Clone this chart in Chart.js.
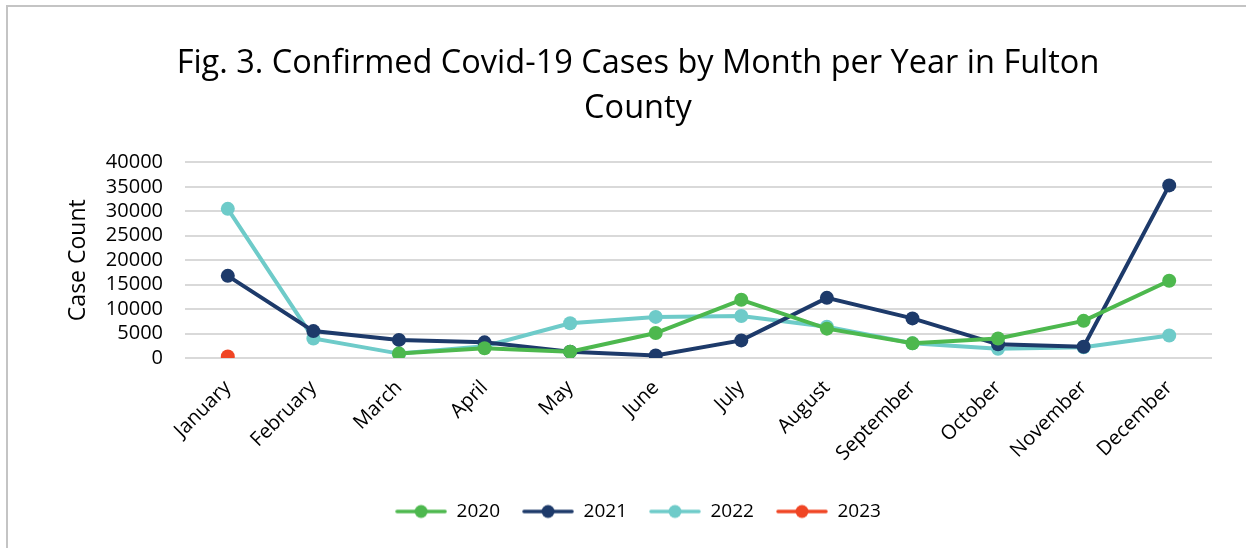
<!DOCTYPE html>
<html>
<head>
<meta charset="utf-8">
<script src="https://cdn.jsdelivr.net/npm/chart.js@4"></script>
<style>
  html, body { margin: 0; padding: 0; background: #fff; overflow: hidden; }
  #wrap {
    position: absolute; left: 6px; top: 5px;
    width: 1240px; height: 543px;
    border-left: 2px solid #c4c4c4; border-top: 2px solid #c4c4c4;
  }
</style>
</head>
<body>
<div id="wrap"><canvas id="covidChart"></canvas></div>
<script>
const MESES = ['January', 'February', 'March', 'April', 'May', 'June', 'July',
               'August', 'September', 'October', 'November', 'December'];

// Casos confirmados por mes
const CASOS_2020 = [null, null, 900, 2000, 1300, 5100, 11900, 6000, 3000, 4000, 7600, 15800];
const CASOS_2021 = [16800, 5500, 3700, 3200, 1300, 500, 3600, 12300, 8100, 2800, 2300, 35300];
const CASOS_2022 = [30500, 4000, 900, 2400, 7100, 8400, 8600, 6400, 3000, 1900, 2200, 4600];
const CASOS_2023 = [300, null, null, null, null, null, null, null, null, null, null, null];

const Y_TICKS = [0, 5000, 10000, 15000, 20000, 25000, 30000, 35000, 40000];

const COLORES = {
    '2020': '#4db84e',
    '2021': '#1d3a6a',
    '2022': '#6ecbc9',
    '2023': '#f04524'
};

// Icono de leyenda: línea con punto en el centro
function iconoLeyenda(color) {
    const c = document.createElement('canvas');
    c.width = 52; c.height = 16;
    const g = c.getContext('2d');
    g.strokeStyle = color;
    g.lineWidth = 3.5;
    g.lineCap = 'round';
    g.beginPath(); g.moveTo(2, 8); g.lineTo(50, 8); g.stroke();
    g.fillStyle = color;
    g.beginPath(); g.arc(26, 8, 6.5, 0, Math.PI * 2); g.fill();
    return c;
}

function serie(label, data) {
    return {
        label: label,
        data: data,
        borderColor: COLORES[label],
        backgroundColor: COLORES[label],
        borderWidth: 4,
        pointRadius: 7,
        pointHoverRadius: 7,
        pointStyle: 'circle',
        pointBorderWidth: 0,
        spanGaps: false,
        tension: 0
    };
}

const FUENTE = "'Open Sans', 'Liberation Sans', sans-serif";

const ctx = document.getElementById('covidChart').getContext('2d');
new Chart(ctx, {
    type: 'line',
    data: {
        labels: MESES,
        datasets: [
            serie('2020', CASOS_2020),
            serie('2021', CASOS_2021),
            serie('2022', CASOS_2022),
            serie('2023', CASOS_2023)
        ]
    },
    options: {
        responsive: true,
        maintainAspectRatio: false,
        animation: false,
        layout: { padding: { left: 56, right: 36, top: 35, bottom: 19 } },
        scales: {
            x: {
                offset: true,
                grid: { display: false },
                border: { display: false },
                ticks: {
                    color: '#000',
                    font: { family: FUENTE, size: 20 },
                    maxRotation: 45, minRotation: 45,
                    padding: 10
                },
                afterFit: (axis) => { axis.height = 122; }
            },
            y: {
                min: 0, max: 40000,
                afterBuildTicks: (axis) => { axis.ticks = Y_TICKS.map(v => ({ value: v })); },
                afterFit: (axis) => { axis.width = 121; },
                grid: { color: '#d9d9d9', lineWidth: 2, drawTicks: false },
                border: { display: false },
                ticks: {
                    color: '#000',
                    font: { family: FUENTE, size: 20 },
                    padding: 22,
                    autoSkip: false,
                    callback: (v) => String(v)
                },
                title: {
                    display: true,
                    text: 'Case Count',
                    color: '#000',
                    font: { family: FUENTE, size: 23 },
                    padding: { top: 1, bottom: 0 }
                }
            }
        },
        plugins: {
            title: {
                display: true,
                text: ['Fig. 3. Confirmed Covid-19 Cases by Month per Year in Fulton', 'County'],
                color: '#000',
                font: { family: FUENTE, size: 32.5, weight: 'normal', lineHeight: 1.36 },
                padding: { top: 0, bottom: 32 }
            },
            legend: {
                position: 'bottom',
                labels: {
                    color: '#000',
                    font: { family: FUENTE, size: 19 },
                    usePointStyle: true,
                    pointStyleWidth: 52,
                    boxWidth: 52,
                    boxHeight: 16,
                    padding: 22,
                    generateLabels: (chart) => chart.data.datasets.map((ds, i) => ({
                        text: ds.label,
                        fillStyle: ds.borderColor,
                        strokeStyle: ds.borderColor,
                        pointStyle: iconoLeyenda(ds.borderColor),
                        datasetIndex: i,
                        hidden: false,
                        lineWidth: 0
                    }))
                }
            },
            tooltip: { enabled: false }
        }
    }
});
</script>
</body>
</html>
